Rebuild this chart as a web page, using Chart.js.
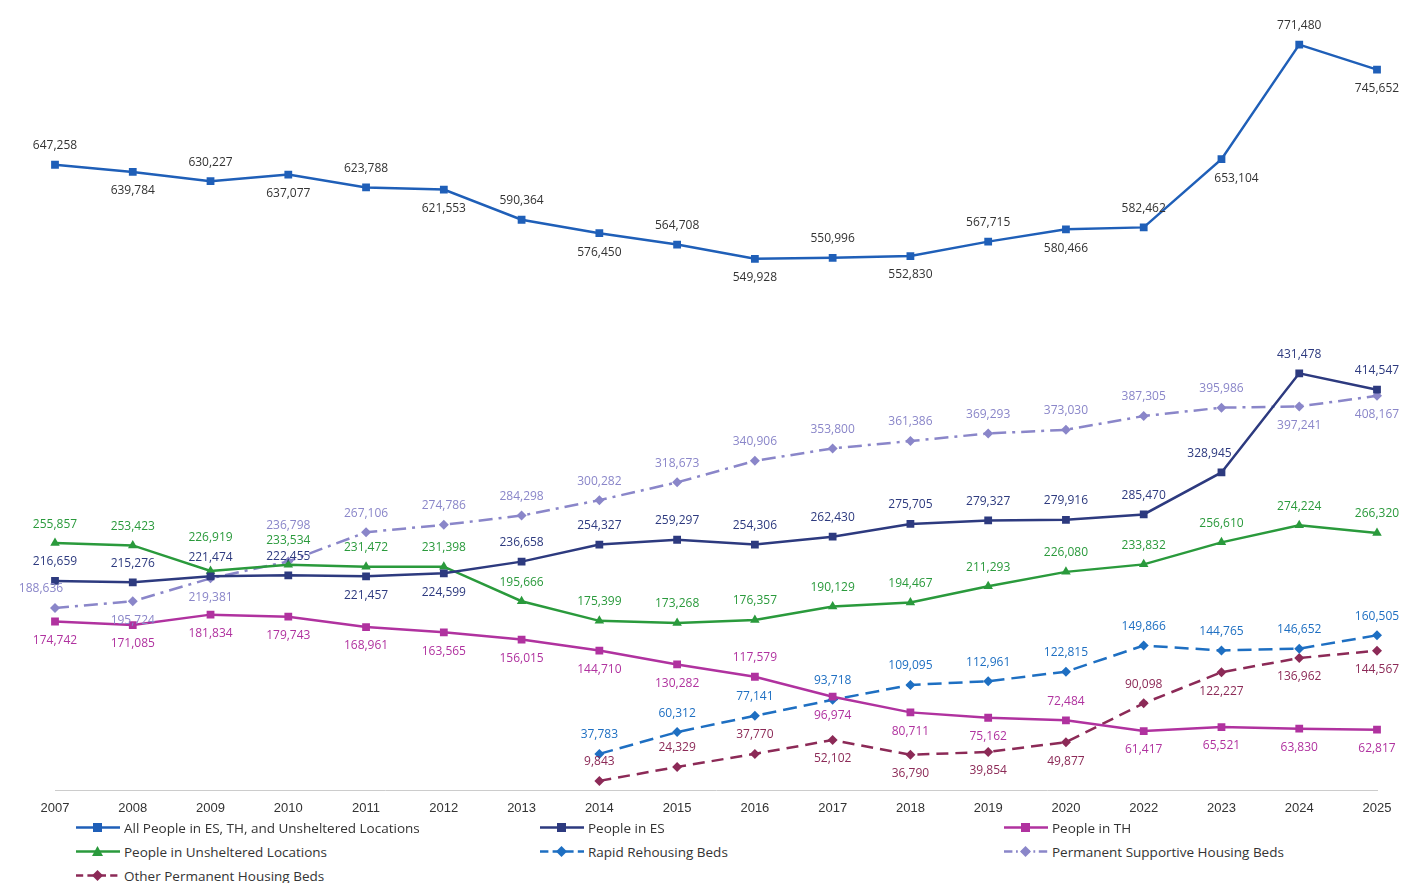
<!DOCTYPE html>
<html>
<head>
<meta charset="utf-8">
<script src="https://cdn.jsdelivr.net/npm/chart.js@4.4.1/dist/chart.umd.min.js"></script>
<style>
body{margin:0;background:#fff;font-family:"Open Sans","Noto Sans",sans-serif;}
#wrap{position:relative;width:1409px;height:883px;}
#legend{position:absolute;left:76px;top:818px;width:1330px;font-size:13.5px;color:#333;}
.it{position:absolute;white-space:nowrap;display:flex;align-items:center;}
.it svg{margin-right:4px;}
</style>
</head>
<body>
<div id="wrap"><canvas id="c" width="1409" height="826"></canvas>
<div id="legend"></div></div>
<script>
var years = ['2007','2008','2009','2010','2011','2012','2013','2014','2015','2016','2017','2018','2019','2020','2022','2023','2024','2025'];
var allPeople = [647258,639784,630227,637077,623788,621553,590364,576450,564708,549928,550996,552830,567715,580466,582462,653104,771480,745652];
var peopleES = [216659,215276,221474,222455,221457,224599,236658,254327,259297,254306,262430,275705,279327,279916,285470,328945,431478,414547];
var peopleTH = [174742,171085,181834,179743,168961,163565,156015,144710,130282,117579,96974,80711,75162,72484,61417,65521,63830,62817];
var unsheltered = [255857,253423,226919,233534,231472,231398,195666,175399,173268,176357,190129,194467,211293,226080,233832,256610,274224,266320];
var rrhBeds = [null,null,null,null,null,null,null,37783,60312,77141,93718,109095,112961,122815,149866,144765,146652,160505];
var pshBeds = [188636,195724,219381,236798,267106,274786,284298,300282,318673,340906,353800,361386,369293,373030,387305,395986,397241,408167];
var otherPH = [null,null,null,null,null,null,null,9843,24329,37770,52102,36790,39854,49877,90098,122227,136962,144567];

// label placement: +1 above, -1 below, 'alt' alternating; flip lists years placed the other way,
// gap gives a larger distance for crowded years, shift moves a label sideways
var series = [
  {label:'All People in ES, TH, and Unsheltered Locations', data:allPeople, color:'#1f5fb8', text:'#333', style:'rect', dash:[], place:'alt', flip:[], gap:{}, shift:{'2023':15}},
  {label:'People in ES', data:peopleES, color:'#2d3a7f', text:'#2d3a7f', style:'rect', dash:[], place:1, flip:['2011','2012'], gap:{}, shift:{'2023':-12}},
  {label:'People in TH', data:peopleTH, color:'#b0329f', text:'#b0329f', style:'rect', dash:[], place:-1, flip:['2016','2020'], gap:{}, shift:{}},
  {label:'People in Unsheltered Locations', data:unsheltered, color:'#2a9a3c', text:'#2a9a3c', style:'triangle', dash:[], place:1, flip:[], gap:{'2009':33,'2010':24}, shift:{}},
  {label:'Rapid Rehousing Beds', data:rrhBeds, color:'#1e6fc2', text:'#1e6fc2', style:'rectRot', dash:[14,7], place:1, flip:[], gap:{}, shift:{}},
  {label:'Permanent Supportive Housing Beds', data:pshBeds, color:'#8a86c9', text:'#8a86c9', style:'rectRot', dash:[14,6,3,6], place:1, flip:['2008','2009','2024','2025'], gap:{'2010':36}, shift:{'2007':-14}},
  {label:'Other Permanent Housing Beds', data:otherPH, color:'#8c2a57', text:'#8c2a57', style:'rectRot', dash:[12,7], place:-1, flip:['2014','2015','2016','2022'], gap:{}, shift:{}}
];

var labelPlugin = {
  id:'pointLabels',
  afterDatasetsDraw:function(chart){
    var ctx = chart.ctx;
    ctx.save();
    ctx.font = '12px "Open Sans", sans-serif';
    ctx.textAlign = 'center';
    ctx.textBaseline = 'middle';
    chart.data.datasets.forEach(function(ds, di){
      var s = series[di];
      var meta = chart.getDatasetMeta(di);
      meta.data.forEach(function(pt, i){
        var v = ds.data[i];
        if (v === null) return;
        var y = years[i];
        var dir = s.place === 'alt' ? (i % 2 === 0 ? 1 : -1) : s.place;
        if (s.flip.indexOf(y) !== -1) dir = -dir;
        ctx.fillStyle = s.text;
        ctx.fillText(v.toLocaleString('en-US'), pt.x + (s.shift[y] || 0), pt.y - dir * (s.gap[y] || 19));
      });
    });
    ctx.restore();
  }
};

new Chart(document.getElementById('c'), {
  type:'line',
  data:{
    labels:years,
    datasets:series.map(function(s){
      return {label:s.label, data:s.data, borderColor:s.color, backgroundColor:s.color,
        borderWidth:2.5, borderDash:s.dash, pointStyle:s.style, pointRadius:s.style==='rectRot'?5:5.5,
        pointBorderWidth:0, tension:0, spanGaps:false};
    })
  },
  options:{
    responsive:false, animation:false,
    layout:{padding:{left:55,right:32,top:0,bottom:0}},
    plugins:{legend:{display:false}, tooltip:{enabled:false}},
    scales:{
      x:{offset:false, grid:{display:false, drawTicks:false}, border:{color:'#ccc'},
         ticks:{color:'#333', font:{size:13}, padding:10}},
      y:{display:false, min:0, max:812000}
    }
  },
  plugins:[labelPlugin]
});

// html legend, three columns
var leg = document.getElementById('legend');
var cols = [0, 464, 928];
series.forEach(function(s, i){
  var d = document.createElement('div');
  d.className = 'it';
  d.style.left = cols[i % 3] + 'px';
  d.style.top = (Math.floor(i / 3) * 24) + 'px';
  var mk = s.style === 'rect' ? '<rect x="17" y="5" width="9" height="9" fill="'+s.color+'"/>' :
    s.style === 'triangle' ? '<polygon points="21.5,4 27,14 16,14" fill="'+s.color+'"/>' :
    '<polygon points="21.5,4 27,9.5 21.5,15 16,9.5" fill="'+s.color+'"/>';
  d.innerHTML = '<svg width="44" height="19"><line x1="0" y1="9.5" x2="44" y2="9.5" stroke="'+s.color+'" stroke-width="2.5" stroke-dasharray="'+(s.dash.length?s.dash.map(function(x){return x*0.6;}).join(','):'none')+'"/>'+mk+'</svg>' + s.label;
  leg.appendChild(d);
});
</script>
</body>
</html>
